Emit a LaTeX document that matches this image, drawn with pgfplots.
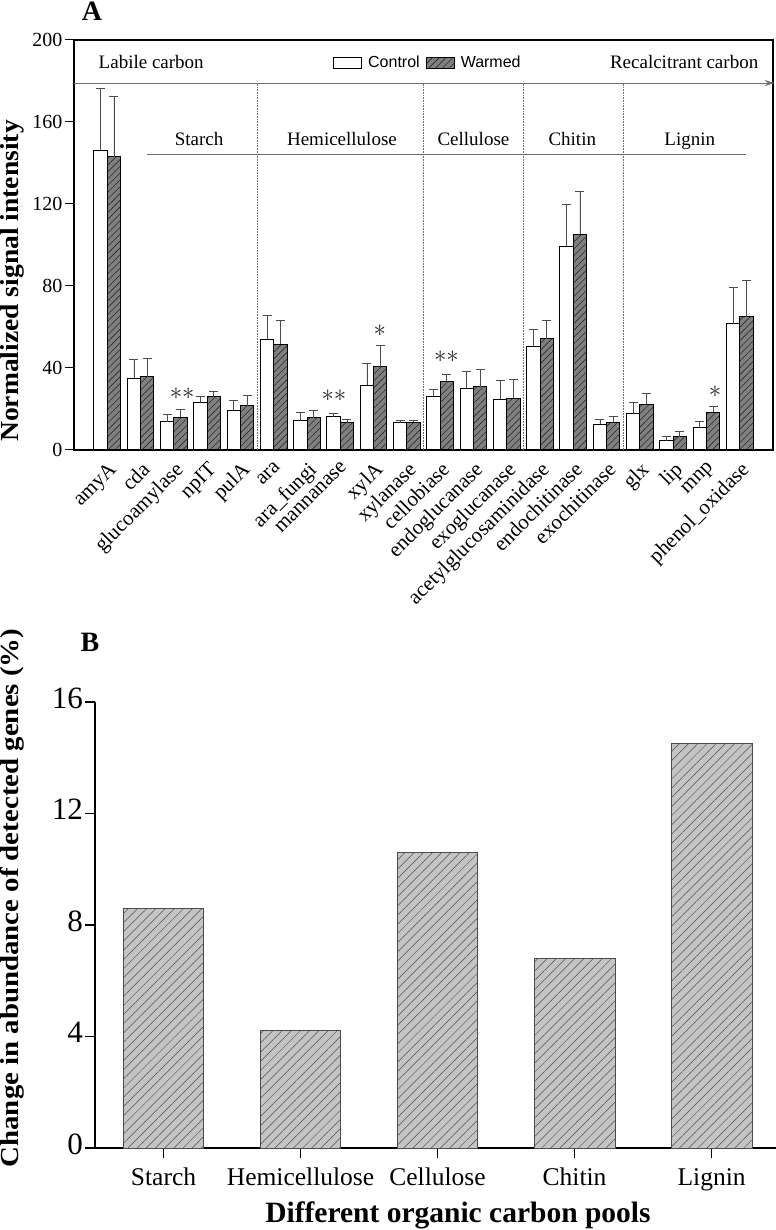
\documentclass[border=0pt]{standalone}
\usepackage{fontspec}
\setmainfont{Liberation Serif}
\newfontfamily\arialfont{Liberation Sans}
\usepackage{graphicx}
\usepackage{pgfplots}
\pgfplotsset{compat=1.18}
\usepackage{pgfplotstable}
\usetikzlibrary{patterns.meta,arrows.meta}

\definecolor{warm}{HTML}{808080}
\definecolor{hatchA}{HTML}{2A2A2A}
\definecolor{barB}{HTML}{C4C4C4}
\definecolor{hatchB}{HTML}{505050}
\definecolor{guide}{HTML}{6E6E6E}

\newcommand\fs[1]{\fontsize{#1}{#1}\selectfont}

\pgfplotsset{boxlegend/.style={legend image code/.code={\draw[##1] (0bp,-5.5bp) rectangle (28bp,5.5bp);}}}

% x: position, c/ce: control mean and error, w/we: warmed mean and error
\pgfplotstableread{
x  c     ce    w     we
0  146.3 30.3  143.0 29.7
1  35.1  8.9   35.8  8.7
2  13.7  3.9   16.0  4.0
3  23.3  2.9   25.9  2.9
4  19.4  5.0   21.5  5.3
5  54.1  11.7  51.6  11.8
6  14.2  3.9   15.8  3.7
7  16.1  1.8   13.3  1.6
8  31.7  10.6  40.5  10.7
9  13.3  1.0   13.5  0.8
10 26.3  3.2   33.6  3.1
11 29.8  8.7   30.9  8.5
12 24.8  9.1   25.3  8.9
13 50.3  8.6   54.2  8.8
14 99.5  20.5  105.2 20.7
15 12.6  2.4   13.6  2.9
16 18.0  5.2   22.2  5.3
17 4.4   2.4   6.5   2.8
18 10.8  3.1   18.4  3.0
19 61.5  18.0  65.0  17.9
}\enzymes

\pgfplotstableread{
x v
0 8.6
1 4.2
2 10.6
3 6.8
4 14.5
}\pools

\begin{document}
\begin{tikzpicture}
\path[use as bounding box] (0,0) rectangle (776bp,1230bp);

% ---------- panel A ----------
\begin{axis}[
  at={(74bp,780bp)}, anchor=south west,
  width=699bp, height=410bp, scale only axis,
  xmin=-1, xmax=20, ymin=0, ymax=200,
  ytick={0,40,...,200},
  xtick={0,...,19},
  xticklabels={amyA,cda,glucoamylase,npIT,pulA,ara,ara\_fungi,mannanase,xylA,xylanase,
    cellobiase,endoglucanase,exoglucanase,acetylglucosaminidase,endochitinase,exochitinase,
    glx,lip,mnp,phenol\_oxidase},
  x tick label style={rotate=45, anchor=north east, font=\fs{21bp}, inner sep=1bp},
  y tick label style={font=\fs{20bp}, inner sep=2.5bp},
  /pgf/number format/assume math mode=true,
  tick align=outside,
  xtick pos=bottom, ytick pos=left,
  xtick style={draw=none},
  major tick length=9bp,
  axis line style={line width=1.3bp},
  tick style={line width=1bp, black},
  clip=false,
  legend columns=2,
  legend style={at={(0.3705,0.944)}, anchor=west, draw=none, fill=none, inner sep=0pt,
    nodes={inner sep=0pt}, font=\arialfont\fs{16bp},
    column sep=6bp, /tikz/every even column/.append style={column sep=6bp}},
]
\addplot[ybar, bar width=0.4, bar shift=0pt, fill=white, draw=black, line width=1bp, boxlegend,
  error bars/.cd, y dir=plus, y explicit,
  error bar style={line width=0.8bp, black!70},
  error mark options={rotate=90, mark size=4.5bp, line width=0.8bp, black!70}]
  table[x expr=\thisrow{x}-0.2, y=c, y error=ce]{\enzymes};
\addlegendentry{Control}
\addplot[ybar, bar width=0.4, bar shift=0pt, fill=warm, draw=black, line width=1bp, boxlegend,
  postaction={pattern={Lines[angle=45,distance=4.8bp,line width=0.6bp]}, pattern color=hatchA},
  error bars/.cd, y dir=plus, y explicit,
  error bar style={line width=0.8bp, black!70},
  error mark options={rotate=90, mark size=4.5bp, line width=0.8bp, black!70}]
  table[x expr=\thisrow{x}+0.2, y=w, y error=we]{\enzymes};
\addlegendentry{Warmed}

% group separators, group line and the carbon arrow
\addplot[forget plot, densely dotted, guide, line width=0.6bp] coordinates {(4.5,0) (4.5,179)};
\addplot[forget plot, densely dotted, guide, line width=0.6bp] coordinates {(9.5,0) (9.5,179)};
\addplot[forget plot, densely dotted, guide, line width=0.6bp] coordinates {(12.5,0) (12.5,179)};
\addplot[forget plot, densely dotted, guide, line width=0.6bp] coordinates {(15.5,0) (15.5,179)};
\addplot[forget plot, guide, line width=0.8bp] coordinates {(1.2,144.4) (19.2,144.4)};
\addplot[forget plot, guide, line width=0.8bp, -{Stealth[length=10bp,width=6bp]}] coordinates {(-1,179) (20.05,179)};

% significance marks
\addplot[forget plot, draw=none, mark=none, nodes near coords, point meta=explicit symbolic,
  every node near coord/.append style={anchor=center, font=\fs{23bp}, text=black!85}]
  coordinates {(2.25,27.3)[$\ast\ast$] (6.81,26.3)[$\ast\ast$] (8.19,58)[$\ast$]
    (10.19,45.4)[$\ast\ast$] (18.26,28.3)[$\ast$]};

\node[font=\fs{19bp}, anchor=base] at (axis cs:1.32,186.3) {Labile carbon};
\node[font=\fs{19bp}, anchor=base] at (axis cs:17.33,186.3) {Recalcitrant carbon};
\node[font=\fs{19bp}, anchor=base] at (axis cs:2.76,148.3) {Starch};
\node[font=\fs{19bp}, anchor=base] at (axis cs:7.05,148.3) {Hemicellulose};
\node[font=\fs{19bp}, anchor=base] at (axis cs:11.0,148.3) {Cellulose};
\node[font=\fs{19bp}, anchor=base] at (axis cs:13.97,148.3) {Chitin};
\node[font=\fs{19bp}, anchor=base] at (axis cs:17.5,148.3) {Lignin};
\end{axis}

% ---------- panel B ----------
\begin{axis}[
  at={(95bp,82bp)}, anchor=south west,
  width=681bp, height=446bp, scale only axis,
  xmin=-0.5, xmax=4.47, ymin=0, ymax=16,
  axis x line=bottom, axis y line=left,
  axis line style={-, line width=1.5bp},
  ytick={0,4,...,16},
  xtick={0,...,4},
  xticklabels={Starch,Hemicellulose,Cellulose,Chitin,Lignin},
  typeset ticklabels with strut,
  x tick label style={font=\fs{25.5bp}, yshift=-6bp},
  y tick label style={font=\fs{31bp}, inner sep=2bp},
  /pgf/number format/assume math mode=true,
  tick align=outside,
  major tick length=10bp,
  tick style={line width=1.3bp, black},
  clip=false,
]
\addplot[ybar, bar width=0.59, fill=barB, draw=black!70, line width=1bp,
  postaction={pattern={Lines[angle=45,distance=6.5bp,line width=0.5bp]}, pattern color=hatchB}]
  table[x=x, y=v]{\pools};
\end{axis}

% panel letters and axis titles
\node[font=\bfseries\fs{28bp}] at (92bp,1219bp) {A};
\node[font=\bfseries\fs{28bp}] at (90bp,588bp) {B};
\node[font=\bfseries\fs{26bp}, rotate=90, anchor=north, inner sep=0pt] at (0bp,949bp) {\scalebox{1.06}[1]{Normalized signal intensity}};
\node[font=\bfseries\fs{26bp}, rotate=90, anchor=north, inner sep=0pt] at (0bp,332bp) {\scalebox{1.11}[1]{Change in abundance of detected genes (\%)}};
\node[font=\bfseries\fs{29.5bp}] at (458bp,15bp) {Different organic carbon pools};
\end{tikzpicture}
\end{document}
